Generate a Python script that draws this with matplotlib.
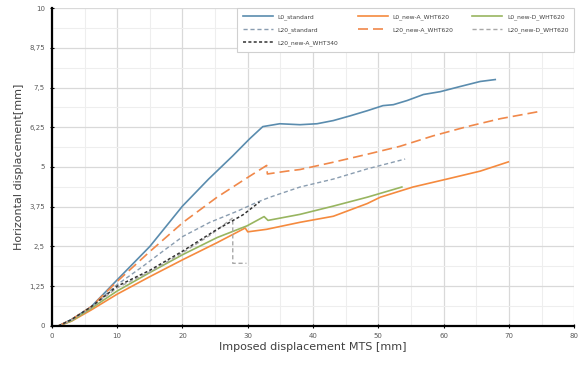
import numpy as np
import matplotlib
matplotlib.use('Agg')
import matplotlib.pyplot as plt
from matplotlib.ticker import MultipleLocator, FixedLocator

# Данные
x_l0_std = [1, 3, 6, 10, 15, 20, 24, 27.7, 30.3, 32.3, 34.9, 38, 40.6, 43.1, 45.7, 48.3, 50.7, 52.3, 54.4, 56.9, 59.5, 62.5, 65.6, 67.9]
y_l0_std = [0, 0.2, 0.6, 1.45, 2.5, 3.77, 4.62, 5.35, 5.89, 6.27, 6.36, 6.33, 6.36, 6.46, 6.61, 6.77, 6.93, 6.96, 7.09, 7.28, 7.37, 7.53, 7.69, 7.75]

x_l0_a620 = [1, 3, 6, 10, 15, 20.1, 25.3, 29.6, 30, 32.9, 38, 43.1, 48.3, 50.3, 55.3, 60.5, 65.6, 69.9]
y_l0_a620 = [0, 0.15, 0.5, 1.0, 1.55, 2.09, 2.62, 3.08, 2.96, 3.04, 3.26, 3.45, 3.85, 4.05, 4.37, 4.62, 4.87, 5.16]

x_l0_d620 = [1, 3, 6, 10, 15, 20.1, 25.3, 29.9, 32.5, 33.1, 38, 43.1, 48.3, 53.6]
y_l0_d620 = [0, 0.16, 0.55, 1.1, 1.68, 2.25, 2.78, 3.15, 3.44, 3.32, 3.51, 3.77, 4.05, 4.37]

x_l20_std = [1, 3, 6, 10, 13.9, 17, 20.1, 24.2, 28.4, 31.4, 33.4, 38, 43.1, 48.3, 54.1]
y_l20_std = [0, 0.2, 0.6, 1.3, 1.87, 2.35, 2.82, 3.26, 3.61, 3.89, 4.05, 4.37, 4.62, 4.94, 5.25]

x_l20_a620 = [1, 3, 6, 10, 15, 20.1, 25.3, 29.6, 32.9, 33.0, 36, 38, 43.1, 48.3, 53.3, 58.4, 63.6, 68.7, 74.5]
y_l20_a620 = [0, 0.2, 0.6, 1.4, 2.34, 3.26, 4.05, 4.62, 5.05, 4.78, 4.87, 4.92, 5.15, 5.4, 5.65, 5.98, 6.27, 6.52, 6.74]

x_l20_d620 = [1, 3, 6, 10, 15, 20, 24.2, 27.7, 27.7, 29.8]
y_l20_d620 = [0, 0.18, 0.58, 1.2, 1.7, 2.3, 2.85, 3.4, 1.97, 1.97]

x_l20_a340 = [1, 3, 6, 10, 15, 20, 25, 29.3, 31.8]
y_l20_a340 = [0, 0.2, 0.6, 1.25, 1.75, 2.35, 3.0, 3.5, 3.9]

x_ticks = [0, 10, 20, 30, 40, 50, 60, 70, 80]
y_ticks = [0, 1.25, 2.5, 3.75, 5, 6.25, 7.5, 8.75, 10]
y_tick_labels = ['0', '1,25', '2,5', '3,75', '5', '6,25', '7,5', '8,75', '10']

fig = plt.figure(figsize=(5.83, 3.65), dpi=100)
ax = fig.add_axes([0.089, 0.107, 0.896, 0.871])

# Сетка
ax.xaxis.set_minor_locator(MultipleLocator(5))
ax.yaxis.set_minor_locator(MultipleLocator(0.625))
ax.grid(True, which='major', color='#D9D9D9', linewidth=0.9)
ax.grid(True, which='minor', color='#EEEEEE', linewidth=0.8)
ax.set_axisbelow(True)

l1, = ax.plot(x_l0_std, y_l0_std, color='#5A8CAE', lw=1.2, label='L0_standard')
l2, = ax.plot(x_l0_a620, y_l0_a620, color='#F58A3E', lw=1.2, label='L0_new-A_WHT620')
l3, = ax.plot(x_l0_d620, y_l0_d620, color='#98B560', lw=1.2, label='L0_new-D_WHT620')
l4, = ax.plot(x_l20_std, y_l20_std, color='#8A9DB0', lw=1.0, dashes=(3, 2), label='L20_standard')
l5, = ax.plot(x_l20_a620, y_l20_a620, color='#F0884A', lw=1.2, dashes=(6, 3), label='L20_new-A_WHT620')
l6, = ax.plot(x_l20_d620, y_l20_d620, color='#A8A8A8', lw=1.0, dashes=(3, 2), label='L20_new-D_WHT620')
l7, = ax.plot(x_l20_a340, y_l20_a340, color='#333333', lw=1.1, dashes=(2, 1.5), label='L20_new-A_WHT340')

ax.set_xlim(0, 80)
ax.set_ylim(0, 10)
ax.xaxis.set_major_locator(FixedLocator(x_ticks))
ax.yaxis.set_major_locator(FixedLocator(y_ticks))
ax.set_yticklabels(y_tick_labels)
ax.tick_params(which='major', labelsize=5, labelcolor='#595959', length=3, width=0.8, direction='inout')
ax.tick_params(which='minor', length=0)

for s in ['top', 'right']:
    ax.spines[s].set_visible(False)
for s in ['left', 'bottom']:
    ax.spines[s].set_linewidth(1.6)
    ax.spines[s].set_color('black')

ax.set_xlabel('Imposed displacement MTS [mm]', fontsize=8, color='#404040', labelpad=2)
ax.set_ylabel('Horizontal displacement[mm]', fontsize=8, color='#404040', labelpad=4)

# Легенда: порядок по столбцам
handles = [l1, l4, l7, l2, l5, l3, l6]
leg = ax.legend(handles=handles, labels=[h.get_label() for h in handles], ncol=3,
                loc='upper right', bbox_to_anchor=(1.006, 1.01), fontsize=4.3,
                handlelength=5, columnspacing=3.2, labelspacing=1.2, borderpad=1.0,
                frameon=True, fancybox=False, edgecolor='#D0D0D0', framealpha=1)
for t in leg.get_texts():
    t.set_color('#404040')
leg.get_frame().set_linewidth(0.8)

plt.savefig('out.png', dpi=100)
